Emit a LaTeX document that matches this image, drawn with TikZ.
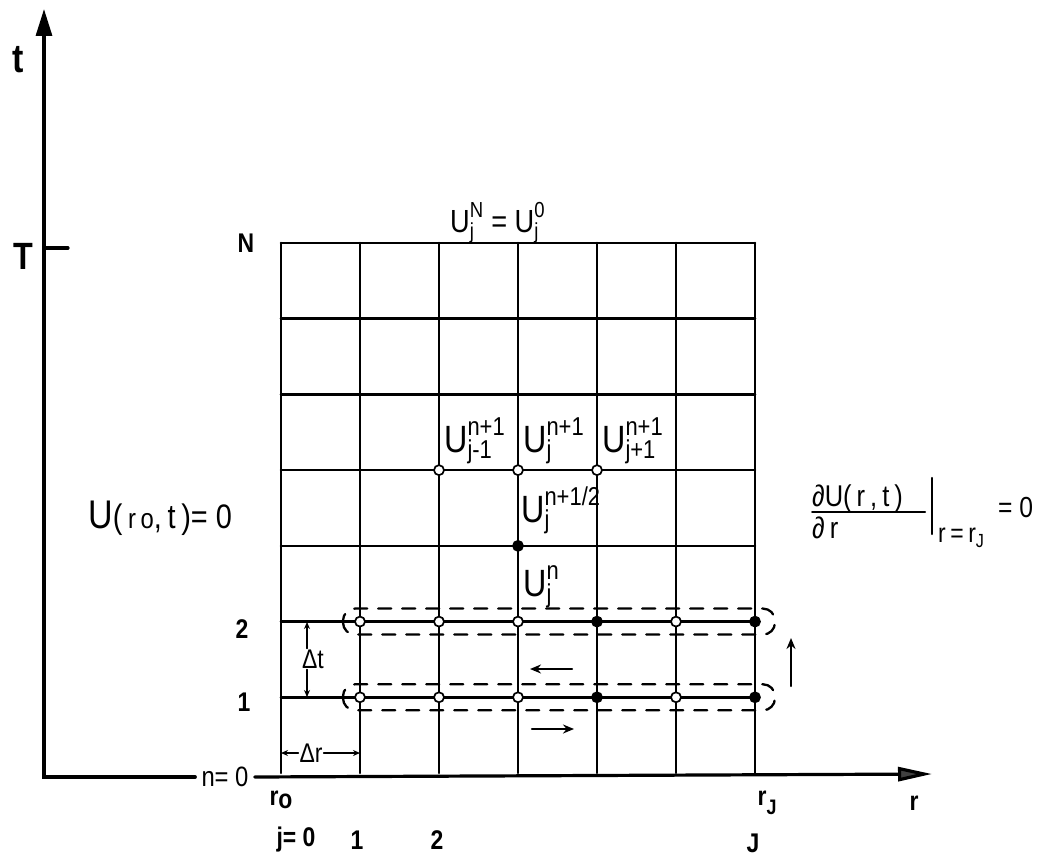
\documentclass[tikz,border=0pt]{standalone}
\usepackage{fontspec}
\usepackage{amsmath}
\setmainfont{Liberation Sans}[FakeStretch=0.85]
\usetikzlibrary{arrows.meta,calc}
\def\defaultscriptratio{.68}
\newcommand{\fsz}[1]{\fontsize{#1}{#1}\selectfont}
\newcommand{\tx}[1]{\text{#1}}
\begin{document}
\begin{tikzpicture}[x=1pt,y=-1pt,line cap=round,
  gridline/.style={line width=2.6pt},
  axisline/.style={line width=3.2pt,line join=miter},
  dashbox/.style={line width=2.3pt,dash pattern=on 13pt off 11pt,rounded corners=12pt},
  pt/.style={circle,draw,line width=1.7pt,fill=white,inner sep=0pt,minimum size=10pt},
  ptf/.style={pt,fill=black},
  arr/.style={line width=2.4pt,-{Stealth[length=11pt,width=9pt]}},
  dimarr/.style={line width=1.6pt,-{Stealth[length=7pt,width=6pt]}},
  lab/.style={inner sep=0pt},
  blab/.style={inner sep=0pt,font=\bfseries\fsz{27}},
  ulab/.style={inner sep=0pt,anchor=base west,font=\fsz{38}}]
\useasboundingbox (0,0) rectangle (1041,856);
% grid coordinates
\foreach \i in {0,...,6}{\foreach \k in {0,...,7}{
  \coordinate (g\i-\k) at ({281+79*\i},{773-75.714*\k});}}
% grid lines
\foreach \i in {0,...,6} \draw[gridline] (g\i-0) -- (g\i-7);
\foreach \k in {1,...,7} \draw[gridline] (g0-\k) -- (g6-\k);
% axes
\coordinate (tTop) at (44,9);
\coordinate (origin) at (44,774);
\coordinate (rEnd) at (932,774);
\coordinate (Ttick) at (68,248);
\node[lab,font=\fsz{28}] (n0) at (225,777) {n= 0};
\draw[axisline,{Triangle[length=27pt,width=16pt]}-] (tTop) -- (origin) -- (n0.west -| origin) -- ([xshift=-6pt]n0.west);
\draw[axisline,-{Triangle[length=34pt,width=14pt,fill=black!75]}] ([xshift=6pt]n0.east) -- (rEnd);
\draw[axisline] (Ttick -| origin) -- (Ttick);
% axis labels
\node[lab,font=\bfseries\fsz{40}] (tl) at (18,60) {t};
\node[lab,font=\bfseries\fsz{38}] (Tl) at (23,256) {T};
\node[blab] (lN) at (246,243) {N};
\node[blab] (l2) at (242,629) {2};
\node[blab] (l1) at (244,702) {1};
\node[blab] (r0) at (281,800) {r\raisebox{-3pt}{o}};
\node[blab] (rJ) at (767,803) {r\raisebox{-9pt}{\fsz{21}J}};
\node[blab] (rl) at (914,803) {r};
\node[blab] (j0) at (296,840) {j= 0};
\node[blab] (j1) at (357,840) {1};
\node[blab] (j2) at (437,840) {2};
\node[blab] (jJ) at (753,843) {J};
% dashed sweeps
\draw[dashbox] ($(g1-2)+(-17,-13)$) rectangle ($(g6-2)+(20,13)$);
\draw[dashbox] ($(g1-1)+(-17,-13)$) rectangle ($(g6-1)+(20,13)$);
% grid points
\foreach \i in {1,2,3,5}{\node[pt] (p\i-2) at (g\i-2) {};\node[pt] (p\i-1) at (g\i-1) {};}
\foreach \i in {4,6}{\node[ptf] (p\i-2) at (g\i-2) {};\node[ptf] (p\i-1) at (g\i-1) {};}
\node[pt] (p2-4) at (g2-4) {};
\node[pt] (p3-4) at (g3-4) {};
\node[pt] (p4-4) at (g4-4) {};
\node[ptf] (p3-3) at (g3-3) {};
% sweep arrows
\coordinate (la1) at (572,669); \coordinate (la2) at (530,669);
\coordinate (ra1) at (532,729); \coordinate (ra2) at (574,729);
\coordinate (ua1) at (791,686); \coordinate (ua2) at (791,638);
\draw[arr] (la1) -- (la2);
\draw[arr] (ra1) -- (ra2);
\draw[arr] (ua1) -- (ua2);
% Delta t, Delta r
\node[lab,fill=white,inner sep=1pt,font=\fsz{27}] (dt) at (313,659) {Δt};
\coordinate (dtT) at (307,622);
\coordinate (dtB) at (307,697);
\draw[dimarr] (dt.north -| dtT) -- (dtT);
\draw[dimarr] (dt.south -| dtB) -- (dtB);
\node[lab,fill=white,inner sep=1pt,font=\fsz{27}] (dr) at (311,753) {Δr};
\draw[dimarr] (dr.west) -- (dr.west -| g0-0);
\draw[dimarr] (dr.east) -- (dr.east -| g1-0);
% U labels
\node[ulab] (Ujm) at (444,452) {$\tx{U}^{\tx{n+1}}_{\tx{j-1}}$};
\node[ulab] (Uj) at (523,452) {$\tx{U}^{\tx{n+1}}_{\tx{j}}$};
\node[ulab] (Ujp) at (602,452) {$\tx{U}^{\tx{n+1}}_{\tx{j+1}}$};
\node[ulab] (Ujh) at (521,522) {$\tx{U}^{\tx{n+1/2}}_{\tx{j}}$};
\node[ulab] (Ujn) at (523,596) {$\tx{U}^{\tx{n}}_{\tx{j}}$};
\node[ulab,font=\fsz{32}] (UN) at (450,232) {$\tx{U}^{\tx{N}}_{\tx{j}}\tx{ = U}^{\tx{0}}_{\tx{j}}$};
\node[ulab,font=\fsz{40}] (Ur0) at (88,528) {U{\fsz{34}(\,}{\fsz{28}r\,o}{\fsz{34},\,t\,)= 0}};
% boundary condition at r_J
\node[ulab,font=\fsz{30}] (num) at (812,506) {∂U(\,r\,,\,t\,)};
\coordinate (fb1) at (812,512); \coordinate (fb2) at (925,512);
\draw[line width=2pt] (fb1) -- (fb2);
\node[ulab,font=\fsz{30}] (den) at (812,538) {∂\,r};
\coordinate (vb1) at (932,478); \coordinate (vb2) at (932,534);
\draw[line width=2.4pt] (vb1) -- (vb2);
\node[ulab,font=\fsz{27}] (sub) at (938,542) {r\,=\,r\raisebox{-5pt}{\fsz{19}J}};
\node[ulab,font=\fsz{29}] (eq0) at (998,517) {= 0};
\end{tikzpicture}
\end{document}
